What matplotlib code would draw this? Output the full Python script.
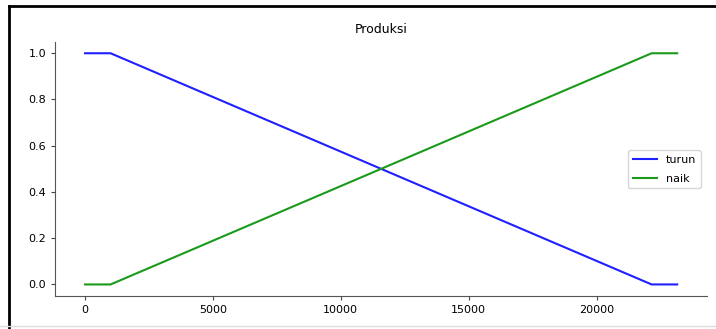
import matplotlib
matplotlib.use('Agg')
import matplotlib.pyplot as plt
from matplotlib.lines import Line2D

# Membership functions for "Produksi"
x_points = [0, 1000, 22150, 23150]
turun = [1, 1, 0, 0]
naik = [0, 0, 1, 1]

W, H = 716, 329
fig = plt.figure(figsize=(W / 100, H / 100), dpi=100)
ax = fig.add_axes([55.4 / W, 33 / H, 651.4 / W, 254.3 / H])

ax.plot(x_points, turun, color='#1f1fff', lw=1.5, label='turun')
ax.plot(x_points, naik, color='#1a9a1a', lw=1.5, label='naik')

ax.set_title('Produksi', fontsize=9, pad=6)
ax.set_xticks([0, 5000, 10000, 15000, 20000])
ax.set_yticks([0.0, 0.2, 0.4, 0.6, 0.8, 1.0])
ax.tick_params(labelsize=8, length=3, color='#444444')
for side in ['top', 'right']:
    ax.spines[side].set_visible(False)
for side in ['left', 'bottom']:
    ax.spines[side].set_color('#555555')
ax.legend(loc='center right', fontsize=8, handlelength=2.2, labelspacing=0.8,
          borderaxespad=0, bbox_to_anchor=(0.9906, 0.498))

# screenshot frame
fig.add_artist(Line2D([8.5 / W, 8.5 / W], [0, 1 - 5.5 / H], color='black', lw=2,
                      transform=fig.transFigure))
fig.add_artist(Line2D([8.5 / W, 1], [1 - 5.5 / H, 1 - 5.5 / H], color='black', lw=2,
                      transform=fig.transFigure))
fig.add_artist(Line2D([0, 1], [3.5 / H, 3.5 / H], color='#dddddd', lw=1,
                      transform=fig.transFigure))

fig.savefig('out.png', dpi=100)
